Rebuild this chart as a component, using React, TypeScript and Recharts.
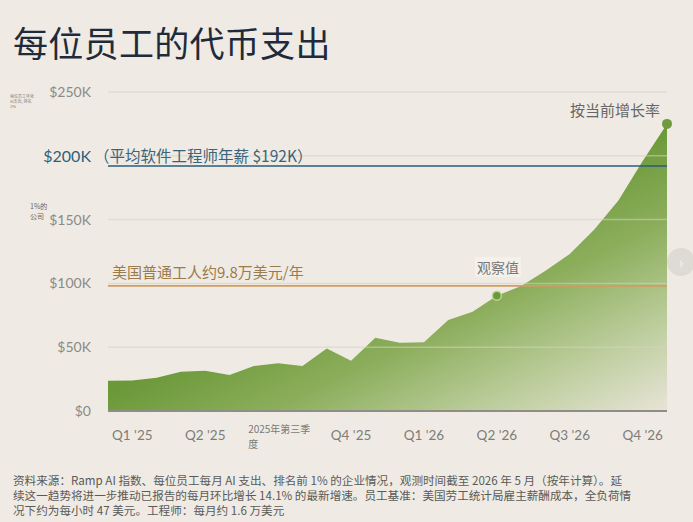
import React from 'react';
import { AreaChart, Area, XAxis, YAxis, ReferenceLine } from 'recharts';

// monthly, Jan '25 .. Dec '26 ; values in $K per employee (annualized)
const monthIndex = [0, 1, 2, 3, 4, 5, 6, 7, 8, 9, 10, 11, 12, 13, 14, 15, 16, 17, 18, 19, 20, 21, 22, 23];
const spend = [23.7, 24, 26, 30.8, 31.6, 28.2, 35.3, 37.4, 35.3, 49, 39.4, 57.4, 53.5, 53.8, 71.3, 77.8, 90.4, 98, 110, 123, 142, 165, 196, 225];
const observedIdx = 16;
const lastIdx = 23;

const quarterTicks = [1, 4, 7, 10, 13, 16, 19, 22];
const quarterLabels = ["Q1 '25", "Q2 '25", '2025年第三季度', "Q4 '25", "Q1 '26", "Q2 '26", "Q3 '26", "Q4 '26"];
const yTicks = [0, 50, 100, 150, 200, 250];

const engineerSalary = 192;
const workerSalary = 98;

const data = monthIndex.map((i, k) => ({ i, spend: spend[k] }));

const FONT = "'Lato', 'Noto Sans CJK SC', sans-serif";
const CJK = "'Noto Sans CJK SC', sans-serif";

const YTick = (props: any) => {
  const { x, y, payload } = props;
  const v = payload.value;
  if (v === 200) {
    return (
      <g>
        <text x={x} y={y} dy={6} textAnchor="end" fontSize={16} fill="#2f5f78" fontFamily={FONT}>$200K</text>
        <text x={x + 3} y={y} dy={6} textAnchor="start" fontSize={15.5} fill="#3a6479" fontFamily={CJK}>
          （平均软件工程师年薪 ${engineerSalary}K）
        </text>
      </g>
    );
  }
  return (
    <text x={x} y={y} dy={5} textAnchor="end" fontSize={14} fill="#8a8a86" fontFamily={FONT}>
      {v === 0 ? '$0' : `$${v}K`}
    </text>
  );
};

const XTick = (props: any) => {
  const { x, y, payload } = props;
  const label = quarterLabels[quarterTicks.indexOf(payload.value)];
  if (label && label.startsWith('2025')) {
    return (
      <g fontFamily={CJK} fontSize={10} fill="#7a7a76">
        <text x={x - 30} y={y + 14}>2025年第三季</text>
        <text x={x - 30} y={y + 29}>度</text>
      </g>
    );
  }
  return (
    <text x={x} y={y} dy={21} textAnchor="middle" fontSize={13.5} fill="#7d7d79" fontFamily={FONT}>
      {label}
    </text>
  );
};

const SpendDot = (props: any) => {
  const { cx, cy, index } = props;
  if (index === observedIdx) {
    return <circle key="obs" cx={cx} cy={cy} r={4.5} fill="#6a9a3a" stroke="#bcd59a" strokeWidth={1.5} />;
  }
  if (index === lastIdx) {
    return <circle key="last" cx={cx} cy={cy} r={5} fill="#6f9a3e" />;
  }
  return <g key={index} />;
};

const WorkerLabel = (props: any) => {
  const { viewBox } = props;
  return (
    <text x={viewBox.x + 4} y={viewBox.y - 8} fontSize={15} fill="#9a7c4c" fontFamily={CJK}>
      美国普通工人约9.8万美元/年
    </text>
  );
};

export default function App() {
  return (
    <div style={{ position: 'fixed', left: 0, top: 0, width: 693, height: 522, background: '#efebe4', overflow: 'hidden' }}>
      <div style={{ position: 'absolute', left: 13, top: 16, fontFamily: CJK, fontSize: 35, color: '#1f2b3b', letterSpacing: 0.3, whiteSpace: 'nowrap' }}>
        每位员工的代币支出
      </div>
      <div style={{ position: 'absolute', left: 10, top: 94, fontFamily: CJK, fontSize: 4, lineHeight: '5px', color: '#777' }}>
        每位员工年化<br />AI支出, 排名<br />1%
      </div>
      <div style={{ position: 'absolute', left: 30, top: 201, fontFamily: CJK, fontSize: 7, lineHeight: '10px', color: '#666' }}>
        1%的<br />公司
      </div>

      <div style={{ position: 'absolute', left: 0, top: 0 }}>
        <AreaChart width={693} height={460} data={data} margin={{ top: 92, right: 26, left: 0, bottom: 0 }}>
          <defs>
            <linearGradient id="spendFill" gradientUnits="userSpaceOnUse" x1={300} y1={300} x2={409} y2={527}>
              <stop offset="0%" stopColor="#6b9838" />
              <stop offset="35%" stopColor="#8cae5c" />
              <stop offset="70%" stopColor="#bccd9c" />
              <stop offset="100%" stopColor="#e4e2d2" />
            </linearGradient>
          </defs>
          <XAxis
            dataKey="i"
            type="number"
            domain={[0, 23]}
            ticks={quarterTicks}
            tick={<XTick />}
            tickLine={false}
            axisLine={{ stroke: '#8e8d86', strokeWidth: 2 }}
            height={49}
            interval={0}
          />
          <YAxis
            domain={[0, 250]}
            ticks={yTicks}
            width={108}
            tick={<YTick />}
            tickLine={false}
            axisLine={false}
            tickMargin={11}
          />
          <Area
            type="linear"
            dataKey="spend"
            stroke="none"
            fill="url(#spendFill)"
            fillOpacity={1}
            dot={SpendDot}
            activeDot={false}
            isAnimationActive={false}
          />
          {yTicks.filter((t) => t > 0).map((t) => (
            <ReferenceLine key={t} y={t} stroke="#d6d1c6" strokeOpacity={0.55} strokeWidth={1.5} />
          ))}
          <ReferenceLine y={engineerSalary} stroke="#2d5b78" strokeWidth={1.5} />
          <ReferenceLine y={workerSalary} stroke="#d29c62" strokeWidth={1.8} label={<WorkerLabel />} />
        </AreaChart>
      </div>

      <div style={{ position: 'absolute', left: 475, top: 257, fontFamily: CJK, fontSize: 14, color: '#777', background: 'rgba(245,242,236,0.8)', padding: '0 2px' }}>
        观察值
      </div>
      <div style={{ position: 'absolute', left: 570, top: 99, fontFamily: CJK, fontSize: 15, color: '#666' }}>
        按当前增长率
      </div>

      <div style={{ position: 'absolute', left: 667, top: 248, width: 28, height: 28, borderRadius: 14, background: '#dedbd5', color: '#f6f4f0', fontFamily: FONT, fontSize: 16, lineHeight: '28px', textAlign: 'center' }}>
        ›
      </div>

      <div style={{ position: 'absolute', left: 13, top: 473, fontFamily: CJK, fontSize: 11.6, lineHeight: '15px', color: '#5a5a58', whiteSpace: 'nowrap' }}>
        <div>资料来源：Ramp AI 指数、每位员工每月 AI 支出、排名前 1% 的企业情况，观测时间截至 2026 年 5 月（按年计算）。延</div>
        <div>续这一趋势将进一步推动已报告的每月环比增长 14.1% 的最新增速。员工基准：美国劳工统计局雇主薪酬成本，全负荷情</div>
        <div>况下约为每小时 47 美元。工程师：每月约 1.6 万美元</div>
      </div>
    </div>
  );
}
